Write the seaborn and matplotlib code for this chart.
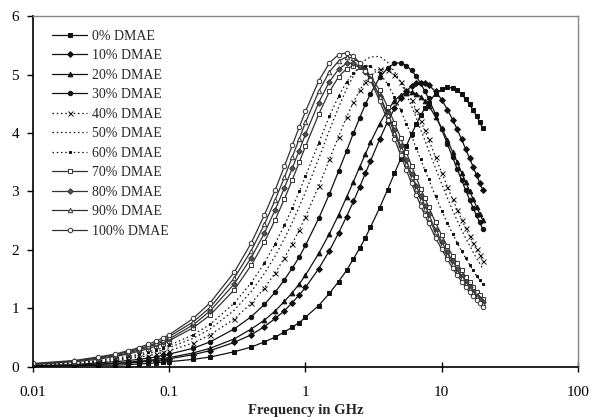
import matplotlib
matplotlib.use("Agg")
import matplotlib.pyplot as plt
from matplotlib.ticker import LogLocator, FixedLocator, FixedFormatter, NullFormatter
import seaborn as sns
import pandas as pd

# Measurement frequencies (GHz)
freq = [0.01, 0.02, 0.03, 0.04, 0.05, 0.06, 0.07, 0.08, 0.09, 0.1,
        0.15, 0.2, 0.3, 0.4, 0.5, 0.6, 0.7, 0.8, 0.9,
        1, 1.25, 1.5, 1.75, 2, 2.25, 2.5, 2.75, 3,
        3.5, 4, 4.5, 5, 5.5, 6, 6.5, 7, 7.5, 8,
        9, 10, 11, 12, 13, 14, 15, 16, 17, 18, 19, 20]

# Dielectric loss of the DMAE / water mixtures
dmae_0 = [0.01, 0.02, 0.03, 0.03, 0.04, 0.05, 0.06, 0.07, 0.08, 0.09,
          0.13, 0.17, 0.26, 0.34, 0.43, 0.51, 0.60, 0.68, 0.76,
          0.85, 1.05, 1.26, 1.46, 1.65, 1.85, 2.03, 2.21, 2.39,
          2.72, 3.03, 3.31, 3.56, 3.78, 3.98, 4.15, 4.30, 4.42, 4.52,
          4.67, 4.75, 4.78, 4.77, 4.73, 4.66, 4.58, 4.49, 4.39, 4.29, 4.18, 4.08]
dmae_10 = [0.01, 0.03, 0.04, 0.06, 0.07, 0.08, 0.10, 0.11, 0.12, 0.14,
           0.21, 0.28, 0.42, 0.55, 0.69, 0.83, 0.96, 1.10, 1.23,
           1.36, 1.68, 1.99, 2.29, 2.57, 2.83, 3.08, 3.31, 3.52,
           3.89, 4.19, 4.42, 4.60, 4.72, 4.80, 4.85, 4.86, 4.85, 4.82,
           4.71, 4.57, 4.40, 4.23, 4.06, 3.89, 3.72, 3.57, 3.42, 3.28, 3.15, 3.03]
dmae_20 = [0.02, 0.03, 0.05, 0.06, 0.08, 0.10, 0.11, 0.13, 0.15, 0.16,
           0.24, 0.32, 0.48, 0.65, 0.80, 0.96, 1.12, 1.27, 1.42,
           1.57, 1.94, 2.28, 2.60, 2.90, 3.17, 3.42, 3.64, 3.84,
           4.16, 4.39, 4.55, 4.65, 4.69, 4.70, 4.67, 4.62, 4.55, 4.47,
           4.28, 4.08, 3.88, 3.68, 3.50, 3.32, 3.16, 3.01, 2.87, 2.74, 2.62, 2.51]
dmae_30 = [0.02, 0.04, 0.07, 0.09, 0.11, 0.13, 0.15, 0.17, 0.20, 0.22,
           0.32, 0.43, 0.65, 0.86, 1.07, 1.28, 1.49, 1.69, 1.88,
           2.08, 2.54, 2.96, 3.35, 3.69, 4.00, 4.26, 4.49, 4.67,
           4.95, 5.11, 5.19, 5.20, 5.15, 5.07, 4.97, 4.85, 4.72, 4.59,
           4.32, 4.06, 3.81, 3.59, 3.38, 3.19, 3.02, 2.86, 2.72, 2.59, 2.47, 2.36]
dmae_40 = [0.03, 0.06, 0.08, 0.11, 0.14, 0.17, 0.19, 0.22, 0.25, 0.28,
           0.41, 0.55, 0.82, 1.09, 1.35, 1.61, 1.86, 2.11, 2.34,
           2.57, 3.09, 3.55, 3.94, 4.27, 4.53, 4.73, 4.88, 4.99,
           5.09, 5.08, 5.00, 4.88, 4.72, 4.56, 4.39, 4.21, 4.05, 3.89,
           3.59, 3.32, 3.08, 2.87, 2.69, 2.52, 2.37, 2.24, 2.12, 2.01, 1.91, 1.82]
dmae_50 = [0.03, 0.07, 0.10, 0.13, 0.16, 0.20, 0.23, 0.26, 0.29, 0.33,
           0.49, 0.65, 0.97, 1.29, 1.60, 1.90, 2.19, 2.47, 2.74,
           2.99, 3.56, 4.05, 4.44, 4.75, 4.98, 5.14, 5.25, 5.30,
           5.31, 5.21, 5.05, 4.86, 4.66, 4.46, 4.26, 4.06, 3.88, 3.71,
           3.40, 3.13, 2.89, 2.68, 2.50, 2.34, 2.20, 2.08, 1.96, 1.86, 1.77, 1.68]
dmae_60 = [0.04, 0.07, 0.11, 0.15, 0.18, 0.22, 0.26, 0.29, 0.33, 0.37,
           0.55, 0.73, 1.09, 1.44, 1.78, 2.11, 2.42, 2.72, 3.00,
           3.26, 3.83, 4.29, 4.63, 4.87, 5.03, 5.12, 5.15, 5.14,
           5.02, 4.84, 4.62, 4.39, 4.16, 3.95, 3.74, 3.55, 3.37, 3.21,
           2.92, 2.67, 2.46, 2.28, 2.12, 1.98, 1.86, 1.75, 1.65, 1.56, 1.49, 1.41]
dmae_70 = [0.04, 0.09, 0.13, 0.18, 0.22, 0.27, 0.31, 0.36, 0.40, 0.45,
           0.67, 0.89, 1.32, 1.74, 2.14, 2.52, 2.87, 3.20, 3.50,
           3.77, 4.32, 4.71, 4.96, 5.10, 5.15, 5.13, 5.07, 4.97,
           4.73, 4.45, 4.17, 3.91, 3.67, 3.44, 3.24, 3.05, 2.89, 2.74,
           2.47, 2.25, 2.06, 1.90, 1.77, 1.65, 1.54, 1.45, 1.37, 1.29, 1.23, 1.17]
dmae_80 = [0.05, 0.10, 0.15, 0.19, 0.24, 0.29, 0.34, 0.39, 0.43, 0.48,
           0.72, 0.96, 1.42, 1.87, 2.29, 2.69, 3.06, 3.40, 3.70,
           3.98, 4.52, 4.88, 5.09, 5.19, 5.19, 5.14, 5.05, 4.92,
           4.64, 4.34, 4.05, 3.77, 3.53, 3.30, 3.10, 2.92, 2.76, 2.61,
           2.35, 2.14, 1.96, 1.81, 1.67, 1.56, 1.46, 1.37, 1.29, 1.22, 1.16, 1.11]
dmae_90 = [0.05, 0.10, 0.16, 0.21, 0.26, 0.31, 0.36, 0.41, 0.46, 0.52,
           0.77, 1.02, 1.52, 1.99, 2.44, 2.86, 3.24, 3.59, 3.90,
           4.18, 4.71, 5.05, 5.23, 5.30, 5.28, 5.20, 5.08, 4.94,
           4.62, 4.30, 4.00, 3.72, 3.47, 3.24, 3.04, 2.86, 2.70, 2.55,
           2.30, 2.09, 1.91, 1.76, 1.63, 1.52, 1.42, 1.34, 1.26, 1.19, 1.13, 1.08]
dmae_100 = [0.06, 0.11, 0.17, 0.22, 0.28, 0.33, 0.39, 0.44, 0.50, 0.55,
            0.83, 1.10, 1.62, 2.12, 2.60, 3.03, 3.43, 3.79, 4.10,
            4.37, 4.89, 5.20, 5.34, 5.37, 5.31, 5.20, 5.06, 4.90,
            4.55, 4.22, 3.90, 3.62, 3.37, 3.14, 2.94, 2.76, 2.60, 2.46,
            2.21, 2.01, 1.84, 1.69, 1.57, 1.46, 1.37, 1.28, 1.21, 1.14, 1.09, 1.03]

labels = ["0% DMAE", "10% DMAE", "20% DMAE", "30% DMAE", "40% DMAE",
          "50% DMAE", "60% DMAE", "70% DMAE", "80% DMAE", "90% DMAE",
          "100% DMAE"]
series = [dmae_0, dmae_10, dmae_20, dmae_30, dmae_40, dmae_50, dmae_60,
          dmae_70, dmae_80, dmae_90, dmae_100]

tick_values = [0.01, 0.1, 1, 10, 100]
tick_labels = ["0.01", "0.1", "1", "10", "100"]

# marker, facecolor, linestyle, line colour, marker size
dot = (0, (1.2, 2.2))
styles = [
    ("s", "#111111", "-", "#111111", 3.4),
    ("D", "#111111", "-", "#111111", 3.0),
    ("^", "#111111", "-", "#111111", 3.4),
    ("o", "#111111", "-", "#111111", 3.2),
    ("x", "#111111", dot, "#111111", 3.6),
    ("", "#111111", dot, "#111111", 0),
    ("s", "#111111", dot, "#111111", 1.8),
    ("s", "white", "-", "#333333", 3.2),
    ("D", "#555555", "-", "#333333", 2.8),
    ("^", "white", "-", "#333333", 3.2),
    ("o", "white", "-", "#333333", 3.2),
]

sns.set_theme(style="white")
plt.rcParams["font.family"] = ["Liberation Serif", "DejaVu Serif"]

fig = plt.figure(figsize=(5.91, 4.17), dpi=100)
ax = fig.add_axes([0.0558, 0.12, 0.9222, 0.8416])

for lab, vals, (mk, fc, ls, col, ms) in zip(labels, series, styles):
    df = pd.DataFrame({"Frequency": freq, "Loss": vals})
    sns.lineplot(data=df, x="Frequency", y="Loss", ax=ax, color=col,
                 linestyle=ls, linewidth=0.9, marker=mk if mk else None,
                 markersize=ms, markerfacecolor=fc, markeredgecolor=col,
                 markeredgewidth=0.7, label=lab, sort=False)

ax.set_xscale("log")
ax.set_xlim(0.01, 100)
ax.set_ylim(0, 6)
ax.xaxis.set_major_locator(FixedLocator(tick_values))
ax.xaxis.set_major_formatter(FixedFormatter(tick_labels))
ax.xaxis.set_minor_locator(LogLocator(base=10, subs=range(2, 10)))
ax.xaxis.set_minor_formatter(NullFormatter())
ax.set_yticks(range(0, 7))

ax.set_xlabel("Frequency in GHz", fontsize=10.5, fontweight="bold", labelpad=4)
ax.set_ylabel("")

for side in ("left", "bottom"):
    ax.spines[side].set_color("black")
    ax.spines[side].set_linewidth(1.2)
for side in ("top", "right"):
    ax.spines[side].set_color("#888888")
    ax.spines[side].set_linewidth(1.0)

ax.tick_params(axis="x", which="major", direction="inout", length=7, width=1,
               colors="black", labelsize=11, pad=10)
ax.tick_params(axis="x", which="minor", direction="in", length=4, width=0.8,
               colors="black")
ax.tick_params(axis="y", which="major", direction="out", length=4, width=1,
               colors="black", labelsize=11, pad=6, left=True)
ax.tick_params(axis="x", bottom=True)

leg = ax.legend(loc="upper left", bbox_to_anchor=(0.02, 0.985), frameon=False,
                fontsize=10, handlelength=2.5, handletextpad=0.35,
                labelspacing=0.47, borderaxespad=0.2)

fig.savefig("out.png", dpi=100)
